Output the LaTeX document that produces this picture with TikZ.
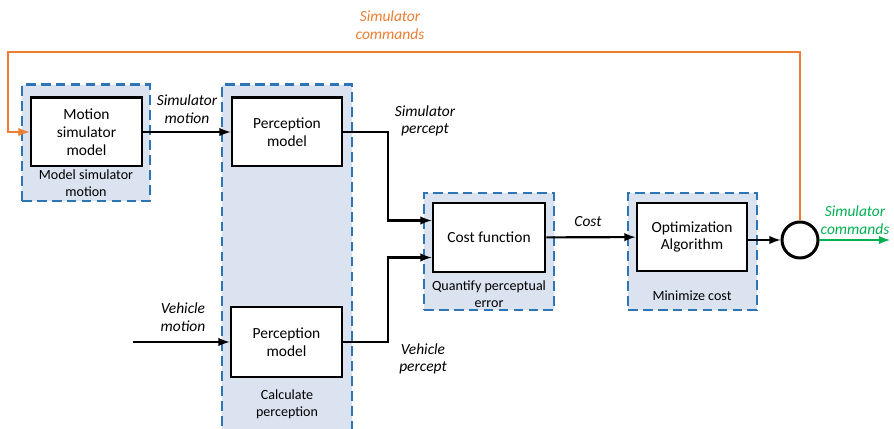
\documentclass[tikz,border=0pt]{standalone}
\usepackage{fontspec}
\setmainfont{Carlito}
\usetikzlibrary{calc}
\tikzset{>=latex}
\definecolor{grpfill}{HTML}{DAE3EF}
\definecolor{grpline}{HTML}{2E75B6}
\definecolor{cmdorange}{HTML}{ED7D31}
\definecolor{cmdgreen}{HTML}{00B050}
\tikzset{
  group/.style={draw=grpline, fill=grpfill, line width=1.7pt, dash pattern=on 5.5pt off 3pt},
  block/.style={draw, fill=white, line width=1.7pt, align=center, inner sep=0pt, font=\fontsize{8.8}{10.2}\selectfont},
  lbl/.style={align=center, font=\fontsize{8.8}{10}\selectfont\itshape},
  grplbl/.style={align=center, font=\fontsize{8}{9.6}\selectfont},
  conn/.style={->, line width=1.2pt}
}

\begin{document}
\begin{tikzpicture}[x=0.02cm, y=0.02cm]
                \useasboundingbox (0,0) rectangle (894,429);
                % dashed groups
                \node[group, minimum width=128*0.02cm, minimum height=116*0.02cm] (gmodel) at (86,286) {};
                \node[group, minimum width=130*0.02cm, minimum height=350*0.02cm] (gperc) at (287,169) {};
                \node[group, minimum width=130*0.02cm, minimum height=117*0.02cm] (gcost) at (489,177.5) {};
                \node[group, minimum width=129*0.02cm, minimum height=117*0.02cm] (gopt) at (692.5,177.5) {};
                \node[grplbl] at (86,246) {Model simulator\\motion};
                \node[grplbl] at (287,25) {Calculate\\perception};
                \node[grplbl] at (489,135) {Quantify perceptual\\error};
                \node[grplbl] at (692,133) {Minimize cost};
                % blocks
                \node[block, minimum width=111*0.02cm, minimum height=68*0.02cm] (motion) at (86.5,297) {Motion\\simulator\\model};
                \node[block, minimum width=110*0.02cm, minimum height=68*0.02cm] (ptop) at (287,297) {Perception\\model};
                \node[block, minimum width=111*0.02cm, minimum height=70*0.02cm] (pbot) at (286.5,87) {Perception\\model};
                \node[block, minimum width=112*0.02cm, minimum height=69*0.02cm] (cost) at (489,191.5) {Cost function};
                \node[block, minimum width=110*0.02cm, minimum height=68*0.02cm] (opt) at (692,192) {Optimization\\Algorithm};
                \node[circle, draw, line width=1.7pt, minimum size=36*0.02cm, inner sep=0pt] (sum) at (800,189) {};
                % helper points
                \coordinate (vin) at (133,87);
                \coordinate (sout) at (890,189);
                \coordinate (topleft) at (8,377);
                % connectors
                \draw[conn] (motion) -- (ptop);
                \draw[conn] (vin) -- (pbot);
                \draw[conn] (ptop.east) -- (388,297) |- ($(cost.west)+(0,17)$);
                \draw[conn] (pbot.east) -- (388,87) |- ($(cost.west)+(0,-20)$);
                \draw[conn] (cost) -- (opt);
                \draw[conn] (opt.east |- sum) -- (sum);
                \draw[conn, cmdgreen] (sum) -- (sout);
                \draw[conn, cmdorange] (sum.north) |- (topleft) |- (motion.west);
                % labels
                \node[lbl] at (187,320) {Simulator\\motion};
                \node[lbl] at (425,308) {Simulator\\percept};
                \node[lbl] at (183,112) {Vehicle\\motion};
                \node[lbl] at (423,70) {Vehicle\\percept};
                \node[lbl] at (588,207) {Cost};
                \node[lbl, cmdorange] at (390,404) {Simulator\\commands};
                \node[lbl, cmdgreen] at (855,209) {Simulator\\commands};
            \end{tikzpicture}
\end{document}
